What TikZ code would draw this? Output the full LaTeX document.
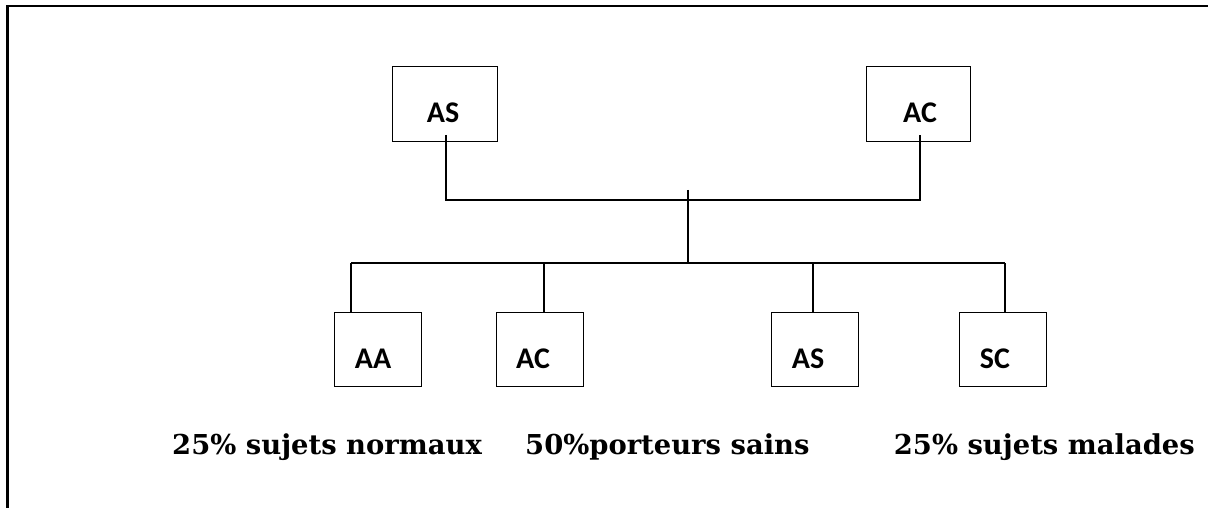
\documentclass[tikz,border=0pt]{standalone}
\usepackage{fontspec}
\setmainfont{DejaVu Serif}
\newfontfamily\boxfont{Carlito}
\usetikzlibrary{calc}
\tikzset{
  gbox/.style={draw=black, line width=1pt, minimum width=#1, minimum height=74pt, inner sep=0pt},
  gbox/.default=87pt,
  glabel/.style={font=\boxfont\bfseries\fontsize{30}{32}\selectfont, inner sep=0pt},
  wire/.style={line width=1.6pt},
  caption/.style={font=\bfseries\fontsize{27.4}{30}\selectfont, inner sep=0pt},
  frame/.style={line width=2.2pt}
}
\begin{document}
\begin{tikzpicture}[x=1pt,y=-1pt]
\useasboundingbox (0,0) rectangle (1208,508);
% page frame (top and left)
\coordinate (fbl) at (7.5,510);
\coordinate (ftl) at (7.5,6);
\coordinate (ftr) at (1208,6);
\draw[frame] (fbl) -- (ftl) -- (ftr);
% parents
\node[gbox=105pt, minimum height=75pt] (p1) at (444.5,104.5) {};
\node[glabel] (p1t) at (443,113) {AS};
\node[gbox=104pt, minimum height=75pt] (p2) at (918,104.5) {};
\node[glabel] (p2t) at (920,113) {AC};
% children
\node[gbox] (c1) at (377.5,349.5) {};
\node[glabel] (c1t) at (373,359) {AA};
\node[gbox] (c2) at (539.5,349.5) {};
\node[glabel] (c2t) at (533,359) {AC};
\node[gbox] (c3) at (815,349.5) {};
\node[glabel] (c3t) at (808,359) {AS};
\node[gbox] (c4) at (1003,349.5) {};
\node[glabel] (c4t) at (995,359) {SC};
% junction coordinates
\coordinate (p1a) at (446,135);
\coordinate (p1b) at (446,200);
\coordinate (p2a) at (920,135);
\coordinate (p2b) at (920,200);
\coordinate (mt) at (688,190);
\coordinate (mb) at (688,263);
\coordinate (b1) at (351,263);
\coordinate (b2) at (544,263);
\coordinate (b3) at (813,263);
\coordinate (b4) at (1005,263);
% wires
\draw[wire] (p1a) -- (p1b) -- (p2b) -- (p2a);
\draw[wire] (mt) -- (mb);
\draw[wire] (b1) -- (b4);
\draw[wire] (b1) -- (b1 |- c1.north);
\draw[wire] (b2) -- (b2 |- c2.north);
\draw[wire] (b3) -- (b3 |- c3.north);
\draw[wire] (b4) -- (b4 |- c4.north);
% captions
\node[caption, anchor=base west] (l1) at (172,454) {25\% sujets normaux};
\node[caption, anchor=base west] (l2) at (525,454) {50\%porteurs sains};
\node[caption, anchor=base east] (l3) at (1195,454) {25\% sujets malades};
\end{tikzpicture}
\end{document}
